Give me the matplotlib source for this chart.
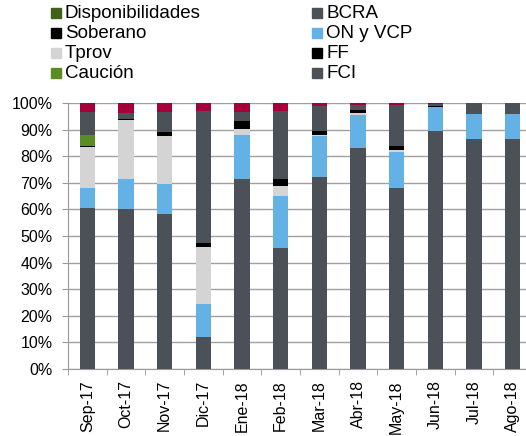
import numpy as np
import matplotlib
matplotlib.use("Agg")
import matplotlib.pyplot as plt
from matplotlib.patches import Rectangle

plt.rcParams['font.family'] = ['Liberation Sans', 'DejaVu Sans']

meses = ["Sep-17", "Oct-17", "Nov-17", "Dic-17", "Ene-18", "Feb-18",
         "Mar-18", "Abr-18", "May-18", "Jun-18", "Jul-18", "Ago-18"]

# participacion (%) de cada activo, de abajo hacia arriba
fci = [60.5, 60.2, 58.2, 12.2, 71.4, 45.5, 72.2, 83.2, 67.9, 89.4, 86.5, 86.5]
on_vcp = [7.5, 11.4, 11.4, 12.2, 16.5, 19.5, 15.3, 12.2, 13.6, 9.0, 9.2, 9.2]
tprov = [15.4, 22.0, 17.9, 21.5, 2.2, 3.7, 0.6, 0.8, 1.0, 0.0, 0.0, 0.0]
ff = [0.4, 0.4, 1.5, 1.5, 3.0, 2.8, 1.5, 1.2, 1.2, 0.3, 0.0, 0.0]
caucion = [4.1, 0.0, 0.0, 0.0, 0.0, 0.0, 0.0, 0.0, 0.0, 0.0, 0.0, 0.0]
soberano = [0.0] * 12
bcra = [8.6, 2.4, 7.5, 49.7, 3.4, 25.6, 9.1, 1.8, 15.4, 0.9, 4.3, 4.3]
disponibilidades = [0.0] * 12
otros = [3.5, 3.6, 3.5, 2.9, 3.5, 2.9, 1.3, 0.8, 0.9, 0.4, 0.0, 0.0]

gris = "#4b5157"
series = [
    ("FCI", fci, gris),
    ("ON y VCP", on_vcp, "#63b1e5"),
    ("Tprov", tprov, "#d4d4d4"),
    ("FF", ff, "#000000"),
    ("Caución", caucion, "#5b8c23"),
    ("Soberano", soberano, "#000000"),
    ("BCRA", bcra, gris),
    ("Disponibilidades", disponibilidades, "#3f6119"),
    ("Otros", otros, "#a6003a"),
]

fig = plt.figure(figsize=(5.26, 4.36), dpi=100)
W, H = 526, 436
ax = fig.add_axes([68 / W, (436 - 369) / H, (532 - 68) / W, 266 / H])

x = np.arange(len(meses))
base = np.zeros(len(meses))
for nombre, vals, color in series:
    vals = np.array(vals)
    ax.bar(x, vals, width=0.4, bottom=base, color=color, zorder=3)
    base += vals

ax.set_xlim(-0.5, 11.5)
ax.set_ylim(0, 100)
ax.set_yticks(np.arange(0, 101, 10))
ax.set_yticklabels([f"{v}%" for v in range(0, 101, 10)], fontsize=11.5)
ax.set_xticks(np.arange(-0.5, 12, 1), minor=True)
ax.set_xticks(x)
ax.set_xticklabels(meses, rotation=90, fontsize=11.5)
ax.tick_params(axis='x', which='major', length=0, pad=8)
ax.tick_params(axis='x', which='minor', length=4, color="#999999")
ax.tick_params(axis='y', length=4.5, color="#999999", pad=6.5)
ax.grid(axis='y', color="#a0a0a0", linewidth=1, zorder=0)
for s in ["top", "right"]:
    ax.spines[s].set_visible(False)
for s in ["left", "bottom"]:
    ax.spines[s].set_color("#999999")

# leyenda en dos columnas
col1 = [("Disponibilidades", "#3f6119"), ("Soberano", "#000000"),
        ("Tprov", "#d4d4d4"), ("Caución", "#5b8c23")]
col2 = [("BCRA", gris), ("ON y VCP", "#63b1e5"), ("FF", "#000000"), ("FCI", gris)]
for xc, col in [(51, col1), (312, col2)]:
    for i, (lab, c) in enumerate(col):
        yc = 13.5 + 20 * i
        fig.patches.append(Rectangle((xc / W, 1 - (yc + 5) / H), 10 / W, 10 / H,
                                     transform=fig.transFigure, color=c))
        fig.text((xc + 14) / W, 1 - yc / H, lab, fontsize=13.5, va='center', ha='left')

fig.savefig("out.png", dpi=100)
